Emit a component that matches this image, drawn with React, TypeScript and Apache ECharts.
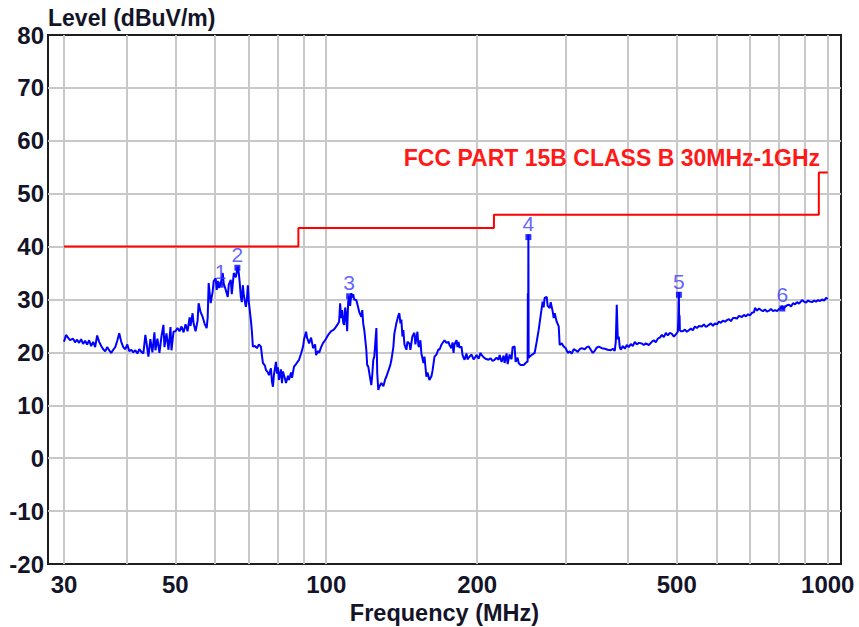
import React, { useEffect, useRef } from 'react';
import * as echarts from 'echarts';

// Measured trace (frequency in MHz, level in dBuV/m)
const freqMHz = [
  30.0, 30.28, 30.56, 30.84, 31.27, 31.56, 31.85, 32.15, 32.45, 32.75, 33.05, 33.36, 33.67, 33.98, 34.3, 34.61,
  34.93, 35.26, 35.59, 35.92, 36.25, 36.58, 36.92, 37.26, 37.61, 37.96, 38.31, 38.66, 39.02, 39.38, 39.75, 40.12,
  40.49, 40.86, 41.24, 41.62, 42.01, 42.4, 42.79, 43.19, 43.59, 43.79, 44.2, 44.6, 45.02, 45.44, 45.65, 46.07,
  46.5, 46.93, 47.36, 47.58, 48.02, 48.47, 48.92, 49.14, 49.6, 50.06, 50.52, 50.99, 51.46, 51.94, 52.42, 52.91,
  53.4, 53.64, 54.14, 54.39, 54.89, 55.4, 55.66, 56.17, 56.7, 57.22, 57.75, 58.02, 58.29, 58.56, 58.83, 59.37,
  59.65, 60.2, 60.48, 60.76, 61.04, 61.61, 62.18, 62.47, 63.05, 63.63, 63.93, 64.52, 64.82, 65.42, 66.02, 66.63,
  66.94, 67.25, 67.56, 67.87, 68.19, 68.5, 69.14, 69.46, 69.78, 70.1, 70.75, 71.08, 71.41, 72.07, 72.74, 73.41,
  74.09, 74.43, 74.77, 75.47, 75.81, 76.51, 76.87, 77.58, 77.94, 78.3, 78.66, 79.39, 79.76, 80.13, 80.5, 81.24,
  81.62, 81.99, 82.75, 83.14, 83.91, 84.29, 85.07, 85.47, 86.26, 87.06, 88.27, 89.09, 89.91, 90.33, 91.16, 91.58,
  92.43, 93.29, 94.15, 95.02, 95.46, 96.34, 96.79, 97.68, 98.59, 99.5, 100.9, 102.3, 103.2, 104.2, 105.2, 106.1,
  106.6, 107.1, 107.6, 108.1, 108.6, 109.1, 109.6, 110.1, 110.6, 111.1, 111.6, 112.2, 112.7, 113.2, 113.7, 114.8,
  115.8, 116.4, 117.5, 118.0, 118.5, 119.1, 120.2, 120.7, 121.3, 122.4, 123.0, 123.6, 124.1, 124.7, 125.3, 125.9,
  126.4, 127.0, 127.6, 128.8, 130.0, 131.2, 131.8, 133.0, 134.2, 134.9, 136.1, 136.7, 138.0, 139.3, 139.9, 140.6,
  141.2, 141.9, 142.5, 143.2, 144.5, 145.2, 146.5, 147.2, 148.5, 149.9, 150.6, 152.0, 152.7, 153.4, 154.1, 154.8,
  156.3, 157.0, 158.4, 159.2, 160.6, 162.1, 162.9, 164.4, 165.9, 167.4, 168.2, 169.8, 172.1, 173.7, 175.3, 176.1,
  177.7, 178.6, 179.4, 180.2, 181.9, 182.7, 183.6, 184.4, 186.1, 187.0, 188.7, 190.4, 191.3, 193.1, 194.9, 196.7,
  197.6, 199.4, 201.3, 203.1, 204.1, 205.9, 207.8, 210.7, 212.7, 214.6, 216.6, 218.6, 220.6, 221.7, 223.7, 225.8,
  226.8, 228.9, 230.0, 232.1, 234.2, 235.3, 237.5, 238.6, 240.8, 241.9, 244.2, 247.5, 249.8, 252.1, 252.4, 252.7,
  253.0, 253.3, 254.5, 256.8, 260.4, 262.8, 265.2, 267.7, 270.1, 271.4, 272.6, 275.2, 276.4, 279.0, 280.3, 282.9,
  284.2, 285.5, 288.1, 290.8, 292.1, 294.8, 297.6, 300.3, 303.1, 305.9, 308.7, 311.6, 314.4, 317.3, 320.3, 323.2,
  327.7, 330.7, 333.8, 336.9, 340.0, 343.1, 346.3, 349.5, 354.4, 359.3, 364.2, 369.3, 372.7, 376.1, 377.9, 379.6,
  381.4, 383.1, 384.9, 386.7, 390.3, 393.9, 397.5, 401.2, 404.9, 408.6, 412.4, 416.2, 420.1, 425.9, 429.8, 433.8,
  439.8, 445.9, 450.0, 454.2, 458.4, 462.6, 466.9, 471.2, 475.6, 479.9, 484.4, 488.9, 493.4, 497.9, 502.5, 503.7,
  504.9, 505.6, 506.5, 507.2, 509.5, 514.2, 519.0, 523.8, 528.6, 533.5, 538.4, 543.4, 548.4, 553.5, 561.2, 566.4,
  571.6, 579.5, 584.9, 590.3, 595.8, 601.3, 606.8, 612.4, 618.1, 623.8, 629.6, 635.4, 641.2, 647.2, 653.1, 659.2,
  665.3, 674.5, 680.7, 687.0, 693.4, 699.8, 706.2, 712.8, 716.1, 722.7, 729.4, 736.1, 742.9, 749.8, 756.7, 763.7,
  770.7, 777.9, 785.0, 792.3, 799.6, 807.0, 810.7, 814.5, 822.0, 829.6, 837.3, 845.0, 852.8, 860.7, 868.6, 876.7,
  888.9, 897.1, 905.4, 913.7, 922.2, 930.7, 939.3, 948.0, 956.7, 965.6, 974.5, 983.5, 992.6, 1000
];
const levelDb = [
  22.0, 23.3, 22.8, 22.3, 22.6, 21.9, 22.4, 21.8, 22.5, 21.6, 22.2, 21.5, 22.3, 21.2, 22.0, 21.0,
  23.2, 22.0, 21.2, 20.6, 20.2, 21.0, 20.4, 19.9, 20.5, 21.0, 22.2, 23.6, 22.0, 21.0, 20.6, 21.5,
  20.2, 20.5, 20.0, 20.4, 19.8, 20.6, 20.1, 19.8, 23.3, 22.0, 19.2, 22.5, 20.0, 23.8, 20.4, 22.6,
  19.9, 23.0, 25.2, 21.0, 23.6, 20.5, 24.8, 20.4, 23.9, 24.0, 24.6, 24.0, 24.9, 23.8, 25.3, 24.0,
  26.6, 25.0, 27.4, 25.5, 24.0, 26.0, 29.3, 27.6, 26.7, 25.4, 24.6, 26.5, 33.1, 31.2, 29.3, 31.5,
  33.5, 34.0, 31.8, 33.5, 32.2, 33.0, 35.0, 33.0, 31.8, 30.5, 32.8, 33.7, 31.0, 35.0, 34.2, 36.2,
  35.0, 33.0, 30.5, 29.5, 32.7, 30.8, 28.6, 30.0, 32.7, 29.5, 26.1, 24.0, 21.1, 21.2, 20.8, 21.5,
  21.1, 19.5, 18.0, 17.5, 16.7, 16.2, 15.7, 17.0, 14.5, 13.5, 15.8, 18.2, 16.0, 17.2, 14.8, 16.8,
  14.2, 16.4, 15.0, 14.2, 15.6, 14.8, 16.2, 15.2, 17.3, 17.8, 18.6, 19.8, 21.1, 22.5, 23.9, 22.8,
  21.7, 22.8, 20.8, 21.5, 19.5, 20.3, 19.9, 21.0, 21.8, 22.3, 23.3, 24.0, 24.2, 24.6, 25.2, 25.8,
  29.3, 26.5, 28.0, 25.6, 25.2, 28.5, 27.0, 24.0, 29.5, 30.6, 28.8, 31.2, 30.4, 31.0, 30.0, 29.9,
  28.5, 27.6, 26.7, 28.0, 25.5, 24.2, 20.5, 17.6, 17.3, 15.0, 13.8, 16.0, 18.5, 19.2, 22.0, 24.6,
  16.0, 12.9, 13.5, 14.2, 13.6, 15.0, 15.4, 16.5, 17.6, 18.6, 21.0, 23.5, 25.5, 27.0, 27.4, 25.5,
  26.2, 23.0, 24.2, 21.5, 20.5, 22.0, 21.7, 20.5, 23.0, 23.7, 21.5, 23.9, 21.2, 21.1, 22.3, 19.8,
  18.0, 19.2, 15.4, 16.2, 14.8, 15.5, 16.5, 19.2, 19.6, 20.6, 20.5, 21.5, 22.3, 21.8, 22.0, 21.4,
  20.8, 21.9, 19.9, 21.5, 22.3, 21.0, 22.0, 20.9, 21.1, 19.5, 18.6, 19.8, 18.7, 19.2, 19.6, 18.7,
  18.9, 19.5, 18.8, 19.9, 19.5, 19.1, 18.8, 18.6, 18.9, 18.4, 18.6, 19.0, 18.6, 19.5, 18.2, 19.4,
  18.0, 19.8, 17.8, 19.6, 18.7, 21.0, 21.1, 18.2, 19.0, 18.0, 17.6, 17.6, 18.0, 18.3, 31.2, 19.5,
  42.3, 19.0, 19.2, 19.5, 19.9, 22.0, 24.2, 27.0, 29.6, 28.5, 30.3, 30.5, 28.8, 28.4, 29.5, 27.7,
  26.5, 27.4, 25.8, 24.9, 21.4, 21.7, 21.1, 20.8, 19.9, 20.2, 19.8, 20.6, 20.4, 20.1, 20.6, 20.8,
  20.6, 21.0, 21.1, 20.5, 19.9, 20.3, 20.9, 21.1, 20.8, 20.7, 20.5, 20.4, 20.7, 20.3, 22.0, 29.0,
  22.5, 23.0, 21.0, 20.5, 21.2, 20.7, 21.4, 21.0, 21.6, 21.2, 22.0, 21.5, 21.8, 21.7, 21.4, 21.7,
  21.4, 22.0, 22.3, 21.9, 22.6, 22.8, 23.3, 22.9, 23.7, 23.2, 23.7, 23.5, 23.0, 23.4, 23.9, 26.5,
  31.4, 24.5, 27.0, 24.2, 24.0, 24.0, 24.3, 23.9, 24.2, 24.5, 24.2, 24.9, 24.6, 25.0, 24.9, 25.3,
  24.8, 25.2, 25.5, 25.0, 25.5, 25.3, 25.8, 25.6, 26.0, 25.8, 26.1, 26.3, 25.9, 26.5, 26.5, 26.4,
  26.9, 26.7, 27.1, 26.8, 27.2, 27.0, 27.5, 27.6, 28.4, 27.9, 28.3, 28.0, 27.8, 28.1, 27.7, 27.9,
  28.2, 27.8, 28.0, 27.8, 28.2, 28.4, 28.8, 28.2, 28.6, 28.9, 29.0, 28.7, 29.3, 29.1, 29.5, 29.2,
  29.9, 29.6, 29.4, 29.8, 29.6, 29.5, 29.8, 29.6, 29.9, 29.7, 30.0, 29.8, 30.3, 30.1
];

// FCC Part 15B Class B limit (stepped)
const limitFreqMHz = [30, 88, 88, 216, 216, 960, 960, 1000];
const limitDb = [40, 40, 43.5, 43.5, 46, 46, 54, 54];
const limitName = 'FCC PART 15B CLASS B 30MHz-1GHz';

// Markers
const markerNo = ['1', '2', '3', '4', '5', '6'];
const markerFreqMHz = [61.6, 66.5, 111.1, 253.0, 504.9, 812];
const markerDb = [32.8, 36.0, 30.6, 41.8, 30.9, 28.3];

// Axes
const gridFreqMHz = [30, 40, 50, 60, 70, 80, 90, 100, 200, 300, 400, 500, 600, 700, 800, 900, 1000];
const labelFreqMHz = [30, 50, 100, 200, 500, 1000];
const yMin = -20;
const yMax = 80;
const yStep = 10;
const yTitle = 'Level (dBuV/m)';
const xTitle = 'Frequency (MHz)';

const FONT = 'Arial, "Liberation Sans", sans-serif';
const INK = '#141428';

export default function App() {
  const ref = useRef<HTMLDivElement>(null);
  useEffect(() => {
    document.body.style.margin = '0';
    const chart = echarts.init(ref.current as HTMLDivElement, null, { renderer: 'svg' });
    const lg = (f: number) => Math.log10(f);
    const gridWidth = 793;
    const pxPerDecade = 501.5;
    const xMin = lg(30) - 16 / pxPerDecade;
    const xMax = xMin + gridWidth / pxPerDecade;
    const option: any = {
      animation: false,
      backgroundColor: '#ffffff',
      grid: {
        left: 48, top: 35, width: gridWidth, height: 529,
        outerBoundsMode: 'none', containLabel: false,
        show: true, borderColor: '#1e1e1e', borderWidth: 2, backgroundColor: 'transparent'
      },
      xAxis: {
        type: 'value', min: xMin, max: xMax,
        axisLine: { show: false },
        axisTick: { show: false, customValues: gridFreqMHz.map(lg) },
        axisLabel: {
          customValues: labelFreqMHz.map(lg),
          formatter: (v: number) => String(Math.round(Math.pow(10, v))),
          fontSize: 24, fontWeight: 'bold', color: INK, margin: 8, fontFamily: FONT
        },
        splitLine: { show: true, lineStyle: { color: '#c8c8c8', width: 2 } },
        name: xTitle, nameLocation: 'middle', nameGap: 21,
        nameTextStyle: { fontSize: 23.5, fontWeight: 'bold', color: INK, fontFamily: FONT }
      },
      yAxis: {
        type: 'value', min: yMin, max: yMax, interval: yStep,
        axisLine: { show: false },
        axisTick: { show: false },
        axisLabel: { fontSize: 24, fontWeight: 'bold', color: INK, margin: 4, fontFamily: FONT },
        splitLine: { show: true, showMinLine: false, showMaxLine: false, lineStyle: { color: '#c8c8c8', width: 2 } }
      },
      graphic: [
        {
          type: 'text', x: 48, y: 18, z: 10,
          style: {
            text: yTitle, fill: INK, textAlign: 'left', textVerticalAlign: 'middle',
            font: 'bold 23px Arial, "Liberation Sans", sans-serif'
          }
        },
        {
          type: 'text', x: 820, y: 158, z: 10,
          style: {
            text: limitName, fill: '#ff1a1a', textAlign: 'right', textVerticalAlign: 'middle',
            font: 'bold 23px Arial, "Liberation Sans", sans-serif'
          }
        }
      ],
      series: [
        {
          name: 'Limit', type: 'line', symbol: 'none',
          data: limitFreqMHz.map((f, i) => [lg(f), limitDb[i]]),
          lineStyle: { color: '#ff0000', width: 2 }, z: 3
        },
        {
          name: 'Level', type: 'line', symbol: 'none',
          data: freqMHz.map((f, i) => [lg(f), levelDb[i]]),
          lineStyle: { color: '#0000ff', width: 2 }, z: 4
        },
        {
          name: 'Markers', type: 'scatter', symbol: 'rect', symbolSize: 6,
          data: markerFreqMHz.map((f, i) => ({ value: [lg(f), markerDb[i]], name: markerNo[i] })),
          itemStyle: { color: '#0000ff' },
          label: {
            show: true, position: 'top', distance: 0, formatter: (p: any) => p.name,
            color: '#3a3aff', fontSize: 21, fontFamily: FONT
          },
          z: 5
        }
      ]
    };
    chart.setOption(option);
    return () => chart.dispose();
  }, []);
  return <div ref={ref} style={{ width: 859, height: 627 }} />;
}
